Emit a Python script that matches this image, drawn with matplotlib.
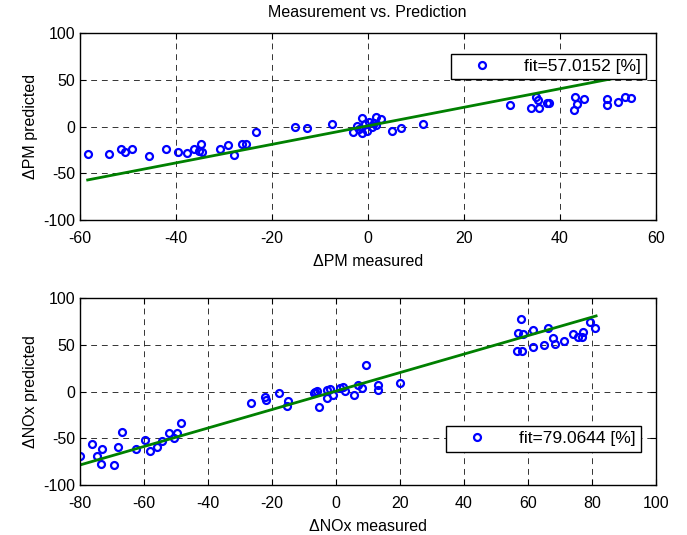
import matplotlib
matplotlib.use("Agg")
import matplotlib.pyplot as plt

plt.rcParams['font.family'] = ['Liberation Sans', 'DejaVu Sans']
plt.rcParams['axes.unicode_minus'] = False

# ---- top panel data (PM) ----
pm_measured = [-58.3, -53.9, -51.4, -50.5, -49.1, -45.5, -42.0, -39.5, -37.6, -36.2,
               -35.2, -34.8, -34.6, -30.7, -29.0, -27.9, -26.2, -25.3, -23.2, -15.1,
               -12.6, -7.4, -3.0, -2.2, -1.8, -1.2, -1.1, -0.6, -0.2, 0.3, 0.8, 1.2,
               1.7, 1.8, 2.8, 5.0, 7.0, 11.4, 29.7, 33.9, 35.1, 35.4, 35.6, 37.3, 37.8,
               43.0, 43.2, 43.5, 45.0, 49.8, 49.9, 52.1, 53.5, 54.9]
pm_predicted = [-29.6, -29.6, -23.9, -27.1, -23.9, -31.0, -23.9, -27.1, -28.5, -23.9,
                -26.0, -18.2, -27.1, -23.9, -19.6, -30.0, -18.5, -18.5, -5.4, 0.0,
                -1.1, 3.2, -5.7, 0.5, -3.0, -7.1, 9.0, 2.5, -4.5, 5.0, 0.0, 3.5,
                10.7, 1.8, 8.2, -4.3, -1.1, 2.9, 23.2, 20.0, 32.1, 28.3, 20.0, 25.0, 25.7,
                17.6, 32.1, 24.6, 30.0, 29.3, 23.2, 26.1, 32.1, 30.4]
pm_fit_x = [-58.3, 54.9]
pm_fit_y = [-57.1, 55.4]
pm_label = 'fit=57.0152 [%]'

# ---- bottom panel data (NOx) ----
nox_measured = [-79.8, -76.2, -74.4, -73.3, -72.9, -69.2, -67.9, -66.6, -62.4, -59.5,
                -58.0, -55.9, -54.3, -52.2, -50.4, -49.6, -48.4, -26.4, -22.2, -21.7,
                -17.7, -15.2, -14.8, -6.4, -5.9, -5.3, -6.8, -2.75, -2.75, -1.9, -0.7,
                1.2, 2.25, 2.75, 5.6, 7.1, 8.2, 9.5, 13.2, 13.2, 20.2,
                56.6, 58.3, 56.9, 58.4, 57.9, 61.6, 61.6, 64.9, 66.2, 67.8, 68.6, 71.2,
                74.0, 75.7, 76.9, 77.1, 79.5, 81.1]
nox_predicted = [-68.9, -56.0, -68.9, -77.5, -61.7, -78.9, -58.9, -43.2, -61.7, -51.7,
                 -63.2, -58.9, -53.2, -44.6, -49.3, -44.6, -33.2, -11.8, -6.0, -9.2,
                 -1.7, -15.3, -10.0, 0.0, 0.8, -16.0, -1.5, 1.8, -7.1, 2.9, -3.5,
                 4.3, 5.4, 0.8, -3.5, 6.9, 3.6, 28.3, 7.2, 1.8, 9.6,
                 44.0, 44.0, 62.6, 61.5, 78.2, 65.8, 48.2, 49.7, 68.6, 57.2, 50.8, 54.0,
                 61.5, 58.3, 58.3, 64.3, 75.0, 67.9]
nox_fit_x = [-79.8, 81.3]
nox_fit_y = [-78.5, 81.1]
nox_label = 'fit=79.0644 [%]'

title = 'Measurement vs. Prediction'

fig = plt.figure(figsize=(6.87, 5.35), dpi=100)
W, H = 687.0, 535.0
ax1 = fig.add_axes([79.5 / W, 1 - 220 / H, (656 - 79.5) / W, (220 - 33.3) / H])
ax2 = fig.add_axes([79.5 / W, 1 - 485 / H, (656 - 79.5) / W, (485 - 298.3) / H])

def style(ax, xlim, xticks):
    ax.set_xlim(*xlim)
    ax.set_ylim(-100, 100)
    ax.set_xticks(xticks)
    ax.set_yticks([-100, -50, 0, 50, 100])
    ax.grid(True, color='black', linestyle=(0, (6, 5)), linewidth=0.7, alpha=0.8)
    ax.tick_params(direction='in', top=True, right=True, labelsize=11.5, length=4)
    ax.tick_params(axis='x', pad=8)
    ax.tick_params(axis='y', pad=3)
    for s in ax.spines.values():
        s.set_linewidth(1.0)
    ax.set_axisbelow(True)

style(ax1, (-60, 60), [-60, -40, -20, 0, 20, 40, 60])
style(ax2, (-80, 100), [-80, -60, -40, -20, 0, 20, 40, 60, 80, 100])

ax1.plot(pm_measured, pm_predicted, 'o', mfc='none', mec='blue', ms=5, mew=1.6, label=pm_label)
ax1.plot(pm_fit_x, pm_fit_y, '-', color='#008000', lw=2)
ax2.plot(nox_measured, nox_predicted, 'o', mfc='none', mec='blue', ms=5, mew=1.6, label=nox_label)
ax2.plot(nox_fit_x, nox_fit_y, '-', color='#008000', lw=2)

ax1.set_title(title, fontsize=11.5, pad=12)
ax1.set_xlabel('ΔPM measured', fontsize=11.5, labelpad=6)
ax1.set_ylabel('ΔPM predicted', fontsize=11.5, labelpad=4)
ax2.set_xlabel('ΔNOx measured', fontsize=11.5, labelpad=6)
ax2.set_ylabel('ΔNOx predicted', fontsize=11.5, labelpad=4)

def legend(ax, box):
    x0, y0, x1, y1 = box
    lg = ax.legend(loc='center', bbox_to_anchor=((x0 + x1) / 2 / W, 1 - (y0 + y1) / 2 / H),
                   bbox_transform=fig.transFigure, fontsize=12.5, frameon=True,
                   fancybox=False, edgecolor='black', framealpha=1, handlelength=3.0,
                   handletextpad=0.9, borderpad=0.3, borderaxespad=0, markerscale=1.0)
    lg.get_frame().set_linewidth(1.0)
    lg.set_zorder(10)

legend(ax1, (451.7, 51, 645.7, 82.3))
legend(ax2, (446.7, 423.3, 640, 454.3))

fig.savefig('out.png', dpi=100)
